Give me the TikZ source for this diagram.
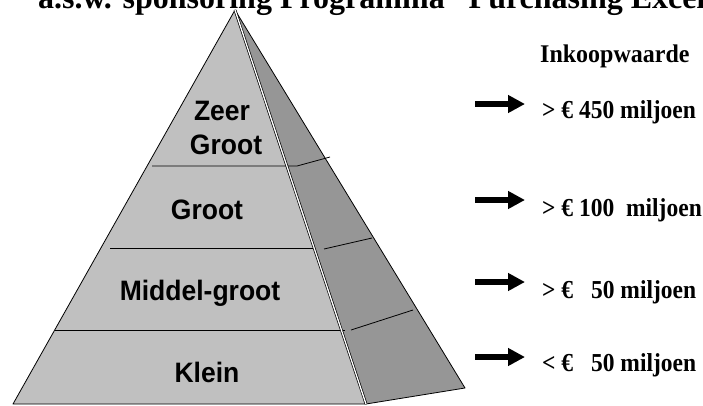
\documentclass[tikz,border=0pt]{standalone}
\usepackage{fontspec}
\usepackage{graphicx}
\setmainfont{Liberation Serif}
\newfontfamily\pyrfont{Liberation Sans}
\usetikzlibrary{arrows.meta}
\definecolor{frontgray}{RGB}{192,192,192}
\definecolor{sidegray}{RGB}{150,150,150}
\newcommand{\tallA}[1]{\scalebox{1}[1.06]{#1}}
\newcommand{\tallB}[1]{\scalebox{1}[1.1]{#1}}
\begin{document}
\begin{tikzpicture}[x=1pt,y=-1pt,
  pyrlabel/.style={font=\pyrfont\fontsize{26.5}{30}\selectfont\bfseries, anchor=base, inner sep=0pt},
  amount/.style={font=\fontsize{23.5}{26}\selectfont\bfseries, anchor=base west, inner sep=0pt},
  titletext/.style={font=\fontsize{32}{36}\selectfont\bfseries, anchor=base west, inner sep=0pt},
  bigarrow/.style={line width=6pt, -{Triangle[length=17pt,width=17pt]}},
  level/.style={line width=0.8pt},
  face/.style={draw=black, line width=0.8pt, line join=round},
]
\clip (0,0) rectangle (703,405);
\fill[white] (0,0) rectangle (703,405);
% pyramid corners
\coordinate (A) at (235,10);
\coordinate (BL) at (13,404);
\coordinate (BR) at (366,404);
\coordinate (SR) at (465,388);
\filldraw[face, fill=frontgray] (A) -- (BL) -- (BR) -- cycle;
\filldraw[face, fill=sidegray] (A) -- (BR) -- (SR) -- cycle;
% level lines
\coordinate (l1a) at (152,166); \coordinate (l1b) at (297,166); \coordinate (l1c) at (330,157);
\coordinate (l2a) at (110,248); \coordinate (l2b) at (315,248);
\coordinate (l2c) at (324,249); \coordinate (l2d) at (372,238);
\coordinate (l3a) at (55,330); \coordinate (l3b) at (345,330);
\coordinate (l3c) at (351,330); \coordinate (l3d) at (413,310);
\draw[level] (l1a) -- (l1b) -- (l1c);
\draw[level] (l2a) -- (l2b);
\draw[level] (l2c) -- (l2d);
\draw[level] (l3a) -- (l3b);
\draw[level] (l3c) -- (l3d);
% double front edge
\draw[double=white, double distance=1.3pt, line width=0.7pt] (A) -- (BR);
% pyramid labels
\node[pyrlabel] (zeer) at (222,120) {\tallA{Zeer}};
\node[pyrlabel] (groot1) at (226,154) {\tallA{Groot}};
\node[pyrlabel] (groot) at (207,219) {\tallA{Groot}};
\node[pyrlabel] (middel) at (200,300) {\tallA{Middel-groot}};
\node[pyrlabel] (klein) at (207,382) {\tallA{Klein}};
% title (cut off at top)
\node[titletext] (title) at (38,8.5) {a.s.w. sponsoring Programma "Purchasing Excellence"};
% right column
\node[amount, font=\fontsize{24}{28}\selectfont\bfseries] (ink) at (540,62) {\tallA{Inkoopwaarde}};
\coordinate (a1s) at (475,104); \coordinate (a1e) at (525,104);
\coordinate (a2s) at (475,200); \coordinate (a2e) at (525,200);
\coordinate (a3s) at (475,282); \coordinate (a3e) at (525,282);
\coordinate (a4s) at (475,357); \coordinate (a4e) at (525,357);
\draw[bigarrow] (a1s) -- (a1e);
\draw[bigarrow] (a2s) -- (a2e);
\draw[bigarrow] (a3s) -- (a3e);
\draw[bigarrow] (a4s) -- (a4e);
\node[amount] (v1) at (542,118) {\tallB{> € 450 miljoen}};
\node[amount] (v2) at (542,216) {\tallB{> € 100\ \ miljoen}};
\node[amount] (v3) at (542,298) {\tallB{> €\hspace{12pt} 50 miljoen}};
\node[amount] (v4) at (542,371) {\tallB{< €\hspace{12pt} 50 miljoen}};
\end{tikzpicture}
\end{document}
